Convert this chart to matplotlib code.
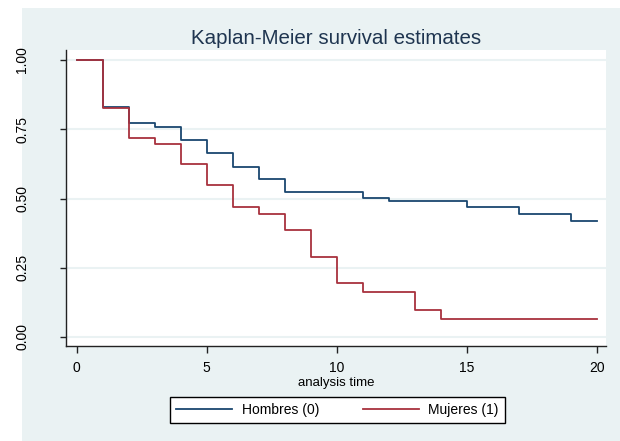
import matplotlib
matplotlib.use("Agg")
import matplotlib.pyplot as plt
from matplotlib.patches import Rectangle

plt.rcParams['font.family'] = ['Liberation Sans', 'DejaVu Sans']

# Kaplan-Meier step estimates by group
t_hombres = [0, 1, 2, 3, 4, 5, 6, 7, 8, 11, 12, 15, 17, 19, 20]
s_hombres = [1.0, 0.831, 0.774, 0.757, 0.712, 0.663, 0.614, 0.569, 0.525,
             0.503, 0.492, 0.470, 0.445, 0.418, 0.418]
t_mujeres = [0, 1, 2, 3, 4, 5, 6, 7, 8, 9, 10, 11, 13, 14, 20]
s_mujeres = [1.0, 0.826, 0.720, 0.698, 0.623, 0.549, 0.470, 0.445, 0.387,
             0.290, 0.194, 0.161, 0.097, 0.065, 0.065]

xticks = [0, 5, 10, 15, 20]
yticks = [0.0, 0.25, 0.5, 0.75, 1.0]
ytick_labels = ["0.00", "0.25", "0.50", "0.75", "1.00"]
labels = ["Hombres (0)", "Mujeres (1)"]

W, H = 620, 441
bg = '#EAF2F3'
navy = '#1A476F'
maroon = '#A8323E'

fig = plt.figure(figsize=(W / 100, H / 100), dpi=100)
fig.patch.set_facecolor('white')
# graph region background (behind the axes)
fig.patches.append(Rectangle((22 / W, 0), 1 - 22 / W, 1 - 8 / H,
                             transform=fig.transFigure, facecolor=bg,
                             edgecolor='none', zorder=-10))

# plot region in pixels: x 66..606, y 50..346
ax = fig.add_axes([66 / W, 1 - 346 / H, 540 / W, 296 / H])
ax.set_zorder(1)
ax.set_facecolor('white')

ax.step(t_hombres, s_hombres, where='post', color=navy, lw=1.3, label=labels[0])
ax.step(t_mujeres, s_mujeres, where='post', color=maroon, lw=1.3, label=labels[1])

# axis limits so that 0 -> x=76.7px, 20 -> x=596.7px ; 0 -> y=337, 1 -> y=60
ax.set_xlim(-(76.7 - 66) / 26, 20 + (606 - 596.7) / 26)
ax.set_ylim(-(346 - 337) / 277, 1 + (60 - 50) / 277)

ax.set_yticks(yticks)
ax.set_yticklabels(ytick_labels, rotation=90, va='center')
ax.set_xticks(xticks)
ax.grid(axis='y', color=bg, lw=1.5)
ax.set_axisbelow(True)

for side in ['top', 'right']:
    ax.spines[side].set_visible(False)
for side in ['left', 'bottom']:
    ax.spines[side].set_color('#222222')
    ax.spines[side].set_linewidth(1.0)

ax.tick_params(axis='y', length=4, width=1, color='#222222', pad=22.5, labelsize=10)
ax.tick_params(axis='x', length=5, width=1, color='#222222', pad=6, labelsize=10)

ax.set_xlabel("analysis time", fontsize=9.5, labelpad=1)
ax.set_title("Kaplan-Meier survival estimates", fontsize=14.8, color='#1F3550', pad=4)

leg = fig.legend(loc='lower left',
                 bbox_to_anchor=(170 / W, 1 - 423 / H, 335 / W, 28 / H),
                 mode='expand', ncol=2, fontsize=10, frameon=True, fancybox=False,
                 edgecolor='black', framealpha=1, handlelength=4, handletextpad=0.7,
                 borderaxespad=0, borderpad=0.45)
leg.get_frame().set_linewidth(1.0)
leg.set_zorder(2)

fig.savefig("out.png", dpi=100, facecolor=fig.get_facecolor())
